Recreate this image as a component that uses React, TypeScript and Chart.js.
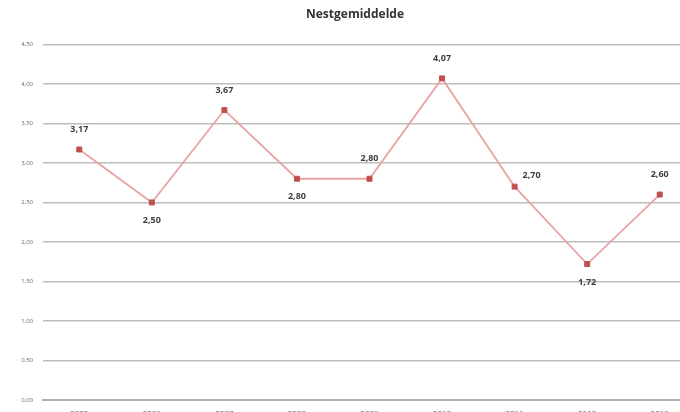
import React, { useEffect, useRef } from "react";
import { Chart, registerables } from "chart.js";

Chart.register(...registerables);

const categories = ["2005", "2006", "2007", "2008", "2009", "2010", "2011", "2012", "2013"];
const nestAverage = [3.17, 2.5, 3.67, 2.8, 2.8, 4.07, 2.7, 1.72, 2.6];
const labelPlacement = ["above", "below", "above", "below", "above", "above", "right", "below", "above"];
const chartTitle = "Nestgemiddelde";

const fmt = (v: number) => v.toFixed(2).replace(".", ",");

const dataLabelPlugin = {
  id: "dataLabels",
  afterDatasetsDraw(chart: any) {
    const ctx = chart.ctx;
    const meta = chart.getDatasetMeta(0);
    ctx.save();
    ctx.font = "bold 9px 'Open Sans', 'Noto Sans', sans-serif";
    ctx.fillStyle = "#404040";
    ctx.textAlign = "center";
    ctx.textBaseline = "middle";
    meta.data.forEach((pt: any, i: number) => {
      const v = nestAverage[i];
      const p = labelPlacement[i];
      let x = pt.x;
      let y = pt.y;
      if (p === "above") y -= 20;
      else if (p === "below") y += 18;
      else {
        x += 17;
        y -= 11;
      }
      ctx.fillText(fmt(v), x, y);
    });
    ctx.restore();
  },
};

export default function App() {
  const ref = useRef<HTMLCanvasElement | null>(null);
  useEffect(() => {
    if (!ref.current) return;
    const chart = new Chart(ref.current, {
      type: "line",
      data: {
        labels: categories,
        datasets: [
          {
            data: nestAverage,
            borderColor: "#e8a3a3",
            borderWidth: 1.8,
            pointStyle: "rect",
            pointRadius: 3.5,
            pointBackgroundColor: "#c0504d",
            pointBorderColor: "#c0504d",
            pointBorderWidth: 1,
            tension: 0,
            fill: false,
          },
        ],
      },
      options: {
        responsive: false,
        animation: false,
        layout: { padding: { left: 14, right: 14, top: 0, bottom: 0 } },
        plugins: {
          legend: { display: false },
          tooltip: { enabled: false },
          title: {
            display: true,
            text: chartTitle,
            color: "#333333",
            font: { family: "'Open Sans', 'Noto Sans', sans-serif", size: 12, weight: "bold" },
            padding: { top: 7, bottom: 23 },
          },
        },
        scales: {
          x: {
            offset: true,
            grid: { display: false, drawTicks: false },
            border: { display: true, color: "#b0b0b0", width: 2 },
            ticks: {
              color: "#666666",
              font: { family: "'Open Sans', sans-serif", size: 8 },
              padding: 9,
            },
            afterFit: (s: any) => {
              s.height = 25;
            },
          },
          y: {
            min: 0,
            max: 4.5,
            grid: { color: "#bdbdbd", lineWidth: 1.5, drawTicks: false },
            border: { display: false },
            ticks: {
              stepSize: 0.5,
              color: "#666666",
              font: { family: "'Open Sans', sans-serif", size: 6 },
              padding: 10,
              callback: (v: any) => fmt(Number(v)),
            },
            afterFit: (s: any) => {
              s.width = 29;
            },
          },
        },
      },
      plugins: [dataLabelPlugin],
    });
    return () => chart.destroy();
  }, []);
  return (
    <div
      style={{
        position: "fixed",
        left: 0,
        top: 0,
        width: 680,
        height: 412,
        overflow: "hidden",
        background: "#ffffff",
      }}
    >
      <canvas ref={ref} width={710} height={425} style={{ width: 710, height: 425, display: "block" }} />
    </div>
  );
}
